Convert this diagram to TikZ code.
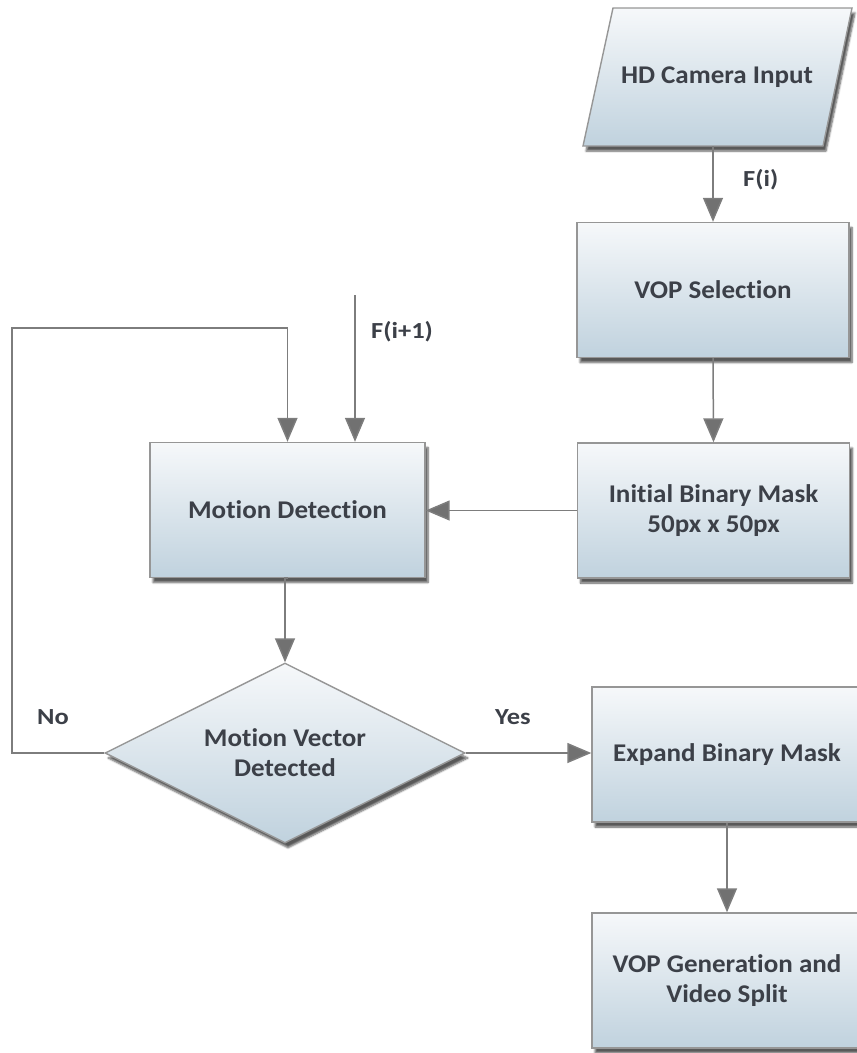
\documentclass[tikz,border=0pt]{standalone}
\usepackage{fontspec}
\setmainfont{Carlito}[Ligatures=NoCommon, FakeStretch=1.06]
\newfontfamily\lblfont{Carlito}[Ligatures=NoCommon, FakeStretch=1.15]
\usetikzlibrary{arrows.meta,shapes.geometric,shadows.blur,calc}
\definecolor{txt}{RGB}{60,64,72}
\definecolor{edge}{RGB}{150,150,150}
\definecolor{linegray}{RGB}{125,125,125}
\definecolor{topc}{RGB}{246,248,250}
\definecolor{botc}{RGB}{192,210,222}
\tikzset{
  boxfill/.style={draw=edge, line width=1.4pt, top color=topc, bottom color=botc,
    blur shadow={shadow xshift=3pt, shadow yshift=-5pt, shadow blur steps=6, shadow opacity=65}},
  boxtext/.style={text=txt, font=\fontsize{25.5}{30}\selectfont\bfseries, align=center, inner sep=0pt},
  procbox/.style={boxfill, boxtext, rectangle, minimum width=272pt, minimum height=135pt},
  iotext/.style={boxtext, rectangle, minimum width=240pt, minimum height=138pt},
  decbox/.style={boxfill, boxtext, diamond, aspect=2, minimum width=360pt, minimum height=180pt},
  arr/.style={draw=linegray, line width=1.5pt, -{Triangle[length=24pt,width=20pt,fill=linegray!90!black]}},
  lbl/.style={text=txt, font=\lblfont\fontsize{23}{28}\selectfont\bfseries, inner sep=0pt}
}
\begin{document}
\begin{tikzpicture}[x=1pt,y=-1pt]
\useasboundingbox (0,0) rectangle (857,1053);
% parallelogram of the input node
\path[boxfill] (613,8) -- (852,8) -- (823,146) -- (583,146) -- cycle;
\node[iotext] (hd) at (717,77) {HD Camera Input};
\node[procbox] (vop) at (713,290) {VOP Selection};
\node[procbox] (ibm) at (713.5,510.5) {Initial Binary Mask\\50px x 50px};
\node[procbox, minimum width=275pt] (md) at (287.5,510) {Motion Detection};
\node[decbox] (dia) at (285,753) {Motion Vector\\Detected};
\node[procbox, minimum width=270pt] (exp) at (727,754.5) {Expand Binary Mask};
\node[procbox, minimum width=270pt] (gen) at (727,980.5) {VOP Generation and\\Video Split};
\coordinate (fin) at (355,295);
\coordinate (loopbl) at (12,753);
\coordinate (looptl) at (12,328);
% connectors
\draw[arr] (vop.north |- hd.south) -- (vop.north);
\draw[arr] (vop.south) -- (ibm.north);
\draw[arr] (ibm.west) -- (ibm.west -| md.east);
\draw[arr] (fin) -- (fin |- md.north);
\draw[arr] (md.south) -- (md.south -| dia.north) -- (dia.north);
\draw[arr] (dia.west) -- (loopbl) -- (looptl) -- (looptl -| md.north) -- (md.north);
\draw[arr] (dia.east) -- (dia.east -| exp.west);
\draw[arr] (exp.south) -- (gen.north);
% labels
\node[lbl, anchor=west] (lfi) at (743,180) {F(i)};
\node[lbl, anchor=west] (lfi1) at (371,332) {F(i+1)};
\node[lbl, anchor=west] (lno) at (37,717) {No};
\node[lbl, anchor=west] (lyes) at (495,717) {Yes};
\end{tikzpicture}
\end{document}
